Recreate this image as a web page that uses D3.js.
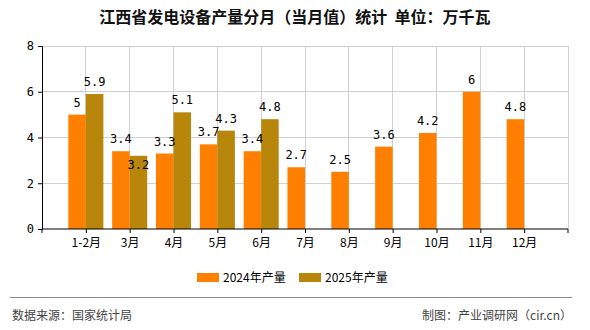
<!DOCTYPE html>
<html><head><meta charset="utf-8">
<script src="https://cdn.jsdelivr.net/npm/d3@7/dist/d3.min.js"></script>
<style>body{margin:0;background:#fff}svg{display:block}</style>
</head><body>
<svg id="c" width="590" height="330"></svg>
<script>
const categories = ["1-2月","3月","4月","5月","6月","7月","8月","9月","10月","11月","12月"];
const values2024 = [5, 3.4, 3.3, 3.7, 3.4, 2.7, 2.5, 3.6, 4.2, 6, 4.8];
const values2025 = [5.9, 3.2, 5.1, 4.3, 4.8, null, null, null, null, null, null];
const seriesNames = ["2024年产量", "2025年产量"];
const colors = ["#FF8000", "#B8860B"];
const yTicks = [0, 2, 4, 6, 8];
const titleText = "江西省发电设备产量分月（当月值）统计  单位：万千瓦";
const sourceText = "数据来源：国家统计局";
const creditText = "制图：产业调研网（cir.cn）";

const svg = d3.select("#c");
const cjk = "'Noto Sans CJK SC','Noto Sans',sans-serif";
const L = 42, R = 568, T = 46, B = 229;
const x = d3.scalePoint().domain(categories).range([L, R]).padding(1);
const y = d3.scaleLinear().domain([0, 8]).range([B, T]);
const bw = x.step() * 0.4;

// grid
const g = svg.append("g");
g.selectAll(".hg").data(yTicks.filter(d => d > 0)).join("line")
  .attr("x1", L).attr("x2", R).attr("y1", d => y(d)).attr("y2", d => y(d))
  .attr("stroke", "#d0d0d0").attr("stroke-width", 1).attr("shape-rendering","crispEdges");
g.selectAll(".vg").data(categories.map(c => x(c)).concat([R])).join("line")
  .attr("x1", d => d).attr("x2", d => d).attr("y1", T).attr("y2", B)
  .attr("stroke", "#d0d0d0").attr("stroke-width", 1).attr("shape-rendering","crispEdges");

// bars
const series = [values2024, values2025];
series.forEach((vals, si) => {
  svg.append("g").selectAll("rect").data(categories.map((c, i) => ({c, v: vals[i]})).filter(d => d.v != null))
    .join("rect")
    .attr("x", d => x(d.c) + (si === 0 ? -bw : 0))
    .attr("width", bw)
    .attr("y", d => y(d.v)).attr("height", d => B - y(d.v))
    .attr("fill", colors[si]);
});

// value labels
const lf = "'DejaVu Sans Mono','Liberation Mono',monospace";
categories.forEach((c, i) => {
  const v1 = values2024[i], v2 = values2025[i];
  const y1 = y(v1) - 8;
  svg.append("text").attr("x", x(c) - bw / 2).attr("y", y1)
    .attr("text-anchor", "middle").attr("font-family", lf).attr("font-size", 12).attr("fill", "#000")
    .text(v1);
  if (v2 != null) {
    let y2 = y(v2) - 8;
    if (Math.abs(y2 - y1) < 13) y2 = y(v2) + 13;
    svg.append("text").attr("x", x(c) + bw / 2).attr("y", y2)
      .attr("text-anchor", "middle").attr("font-family", lf).attr("font-size", 12).attr("fill", "#000")
      .text(v2);
  }
});

// axes
const ya = svg.append("g").attr("transform", `translate(${L},0)`)
  .call(d3.axisLeft(y).tickValues(yTicks).tickSize(4).tickPadding(4));
ya.select(".domain").attr("stroke", "#000");
ya.selectAll("text").attr("font-family", lf).attr("font-size", 12).attr("fill", "#000");

const xa = svg.append("g").attr("transform", `translate(0,${B})`)
  .call(d3.axisBottom(x).tickSize(4).tickPadding(5));
xa.select(".domain").attr("stroke", "#000").attr("d", `M${L},4V0H${R}V4`);
xa.selectAll("text").attr("font-family", cjk).attr("font-size", 12).attr("fill", "#000");

// title
svg.append("text").attr("x", 295).attr("y", 23).attr("text-anchor", "middle")
  .attr("font-family", cjk).attr("font-size", 16).attr("font-weight", "bold").attr("fill", "#111")
  .attr("xml:space","preserve").style("white-space","pre")
  .text(titleText);

// legend
const lg = svg.append("g");
const lx = [197, 299];
seriesNames.forEach((n, i) => {
  lg.append("rect").attr("x", lx[i]).attr("y", 273).attr("width", 22).attr("height", 9).attr("fill", colors[i]);
  lg.append("text").attr("x", lx[i] + 26).attr("y", 282).attr("font-family", cjk).attr("font-size", 12)
    .attr("fill", "#000").text(n);
});

// footer
svg.append("line").attr("x1", 10).attr("x2", 572).attr("y1", 297.5).attr("y2", 297.5)
  .attr("stroke", "#888").attr("stroke-width", 1);
svg.append("text").attr("x", 12).attr("y", 320).attr("font-family", cjk).attr("font-size", 12)
  .attr("fill", "#444").text(sourceText);
svg.append("text").attr("x", 572).attr("y", 320).attr("text-anchor", "end").attr("font-family", cjk).attr("font-size", 12)
  .attr("fill", "#444").text(creditText);
</script>
</body></html>
